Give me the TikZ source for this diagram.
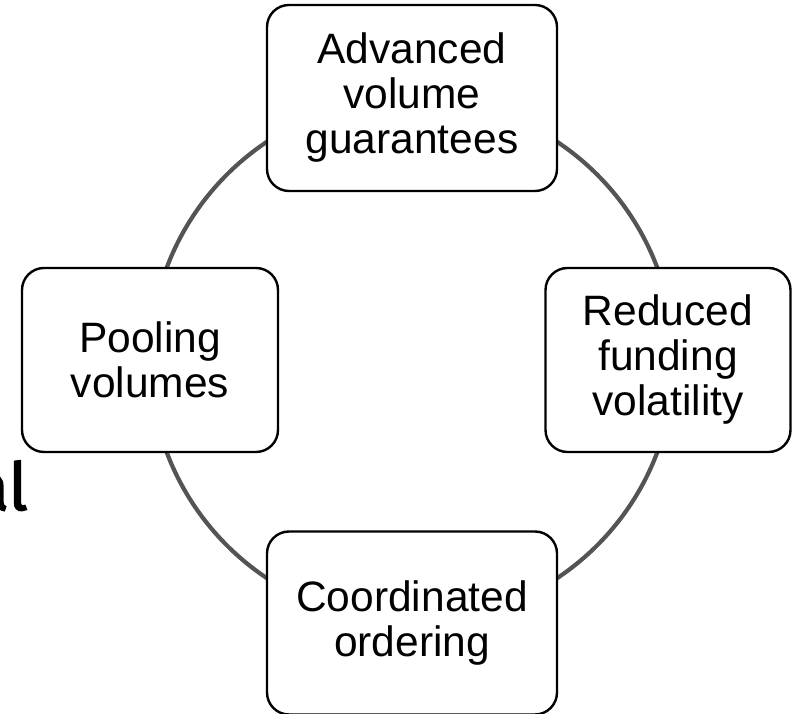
\documentclass[tikz,border=0pt]{standalone}
\usepackage{fontspec}
\setmainfont{Liberation Sans}
\newfontfamily\sidefont[FakeBold=2]{Fira Sans}
\usetikzlibrary{positioning}
\definecolor{ringgray}{rgb}{0.33,0.33,0.33}
\tikzset{
    node distance=262pt, % Radius of the cycle
    cyclebox/.style={draw=black, line width=2.4pt, fill=white, rounded corners=22pt,
        align=center, inner sep=0pt, font=\fontsize{42.5}{45}\selectfont}, % Boxes on the cycle
    ring/.style={draw=ringgray, line width=4.2pt}, % The cycle itself
}

\begin{document}
\begin{tikzpicture}
    \useasboundingbox (0,0) rectangle (792pt,714pt);
    \coordinate (c) at (412pt,354pt);
    \draw[ring] (c) circle (262pt);

    \node[cyclebox, minimum width=290pt, minimum height=186pt] (adv) [above of=c] {Advanced\\volume\\guarantees};
    \node[cyclebox, minimum width=245pt, minimum height=184pt] (red) [right of=c, xshift=-6pt] {Reduced\\funding\\volatility};
    \node[cyclebox, minimum width=290pt, minimum height=183pt] (coord) [below of=c, yshift=-1pt] {Coordinated\\ordering};
    \node[cyclebox, minimum width=256pt, minimum height=184pt] (pool) [left of=c] {Pooling\\volumes};

    \node[anchor=base east, inner sep=0pt, font=\sidefont\fontsize{66}{70}\selectfont] (side) at (28pt,204pt) {al};
\end{tikzpicture}
\end{document}
